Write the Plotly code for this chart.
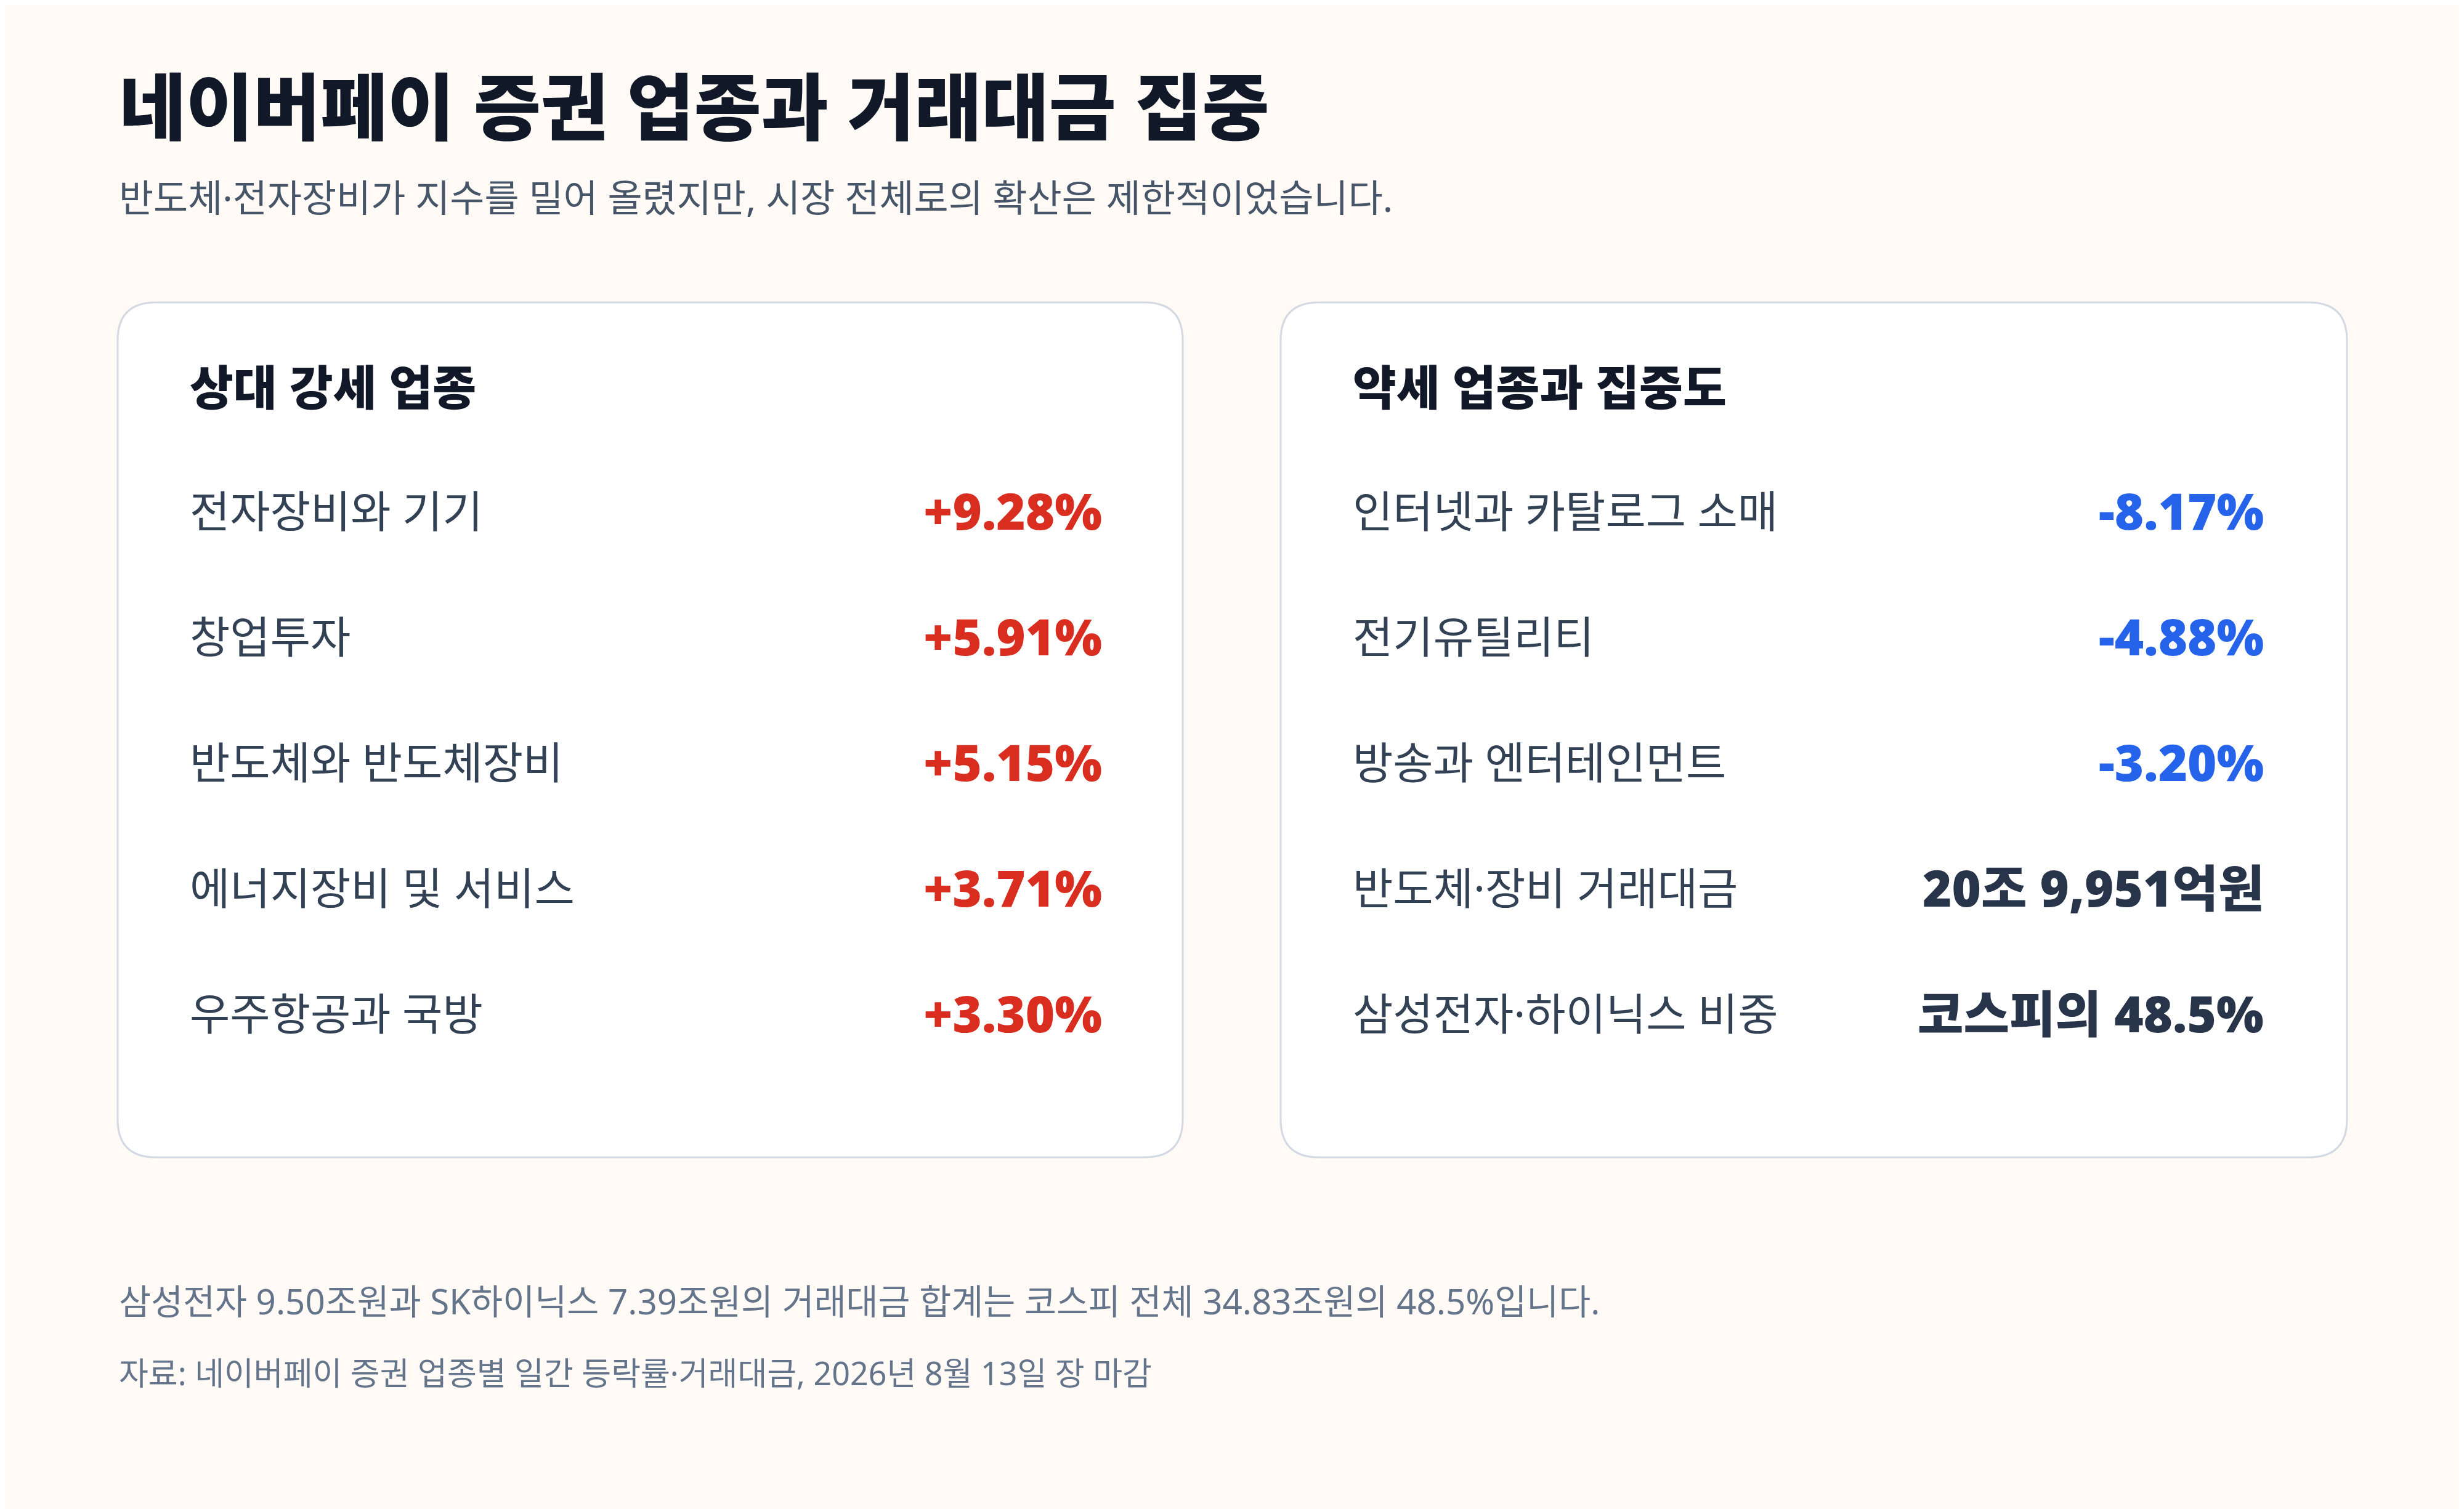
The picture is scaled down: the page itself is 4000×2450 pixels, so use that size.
import plotly.graph_objects as go

# text content
title = "네이버페이 증권 업종과 거래대금 집중"
subtitle = "반도체·전자장비가 지수를 밀어 올렸지만, 시장 전체로의 확산은 제한적이었습니다."

strong_title = "상대 강세 업종"
strong_labels = ["전자장비와 기기", "창업투자", "반도체와 반도체장비", "에너지장비 및 서비스", "우주항공과 국방"]
strong_values = [9.28, 5.91, 5.15, 3.71, 3.30]

weak_title = "약세 업종과 집중도"
weak_labels = ["인터넷과 카탈로그 소매", "전기유틸리티", "방송과 엔터테인먼트"]
weak_values = [-8.17, -4.88, -3.20]
conc_labels = ["반도체·장비 거래대금", "삼성전자·하이닉스 비중"]
conc_values = ["20조 9,951억원", "코스피의 48.5%"]

note = "삼성전자 9.50조원과 SK하이닉스 7.39조원의 거래대금 합계는 코스피 전체 34.83조원의 48.5%입니다."
source = "자료: 네이버페이 증권 업종별 일간 등락률·거래대금, 2026년 8월 13일 장 마감"

W, H = 4000, 2450
OFF = 8  # page body margin
FONT = "Noto Sans, Noto Sans CJK KR"
BG = "#fffaf6"
RED = "#d92d20"
BLUE = "#2563eb"
DARK = "#111827"
TEXT = "#334155"
MUTED = "#64748b"


def rounded_rect(x0, y0, x1, y1, r):
    return (f"M {x0+r},{y0} L {x1-r},{y0} Q {x1},{y0} {x1},{y0+r} "
            f"L {x1},{y1-r} Q {x1},{y1} {x1-r},{y1} L {x0+r},{y1} "
            f"Q {x0},{y1} {x0},{y1-r} L {x0},{y0+r} Q {x0},{y0} {x0+r},{y0} Z")


fig = go.Figure()
# invisible trace so the axes exist
fig.add_trace(go.Scatter(x=[OFF, W], y=[OFF, H], mode="markers",
                         marker=dict(opacity=0), hoverinfo="skip", showlegend=False))

card_top, card_bottom = 491, 1879
for left, right in [(191, 1920), (2079, 3810)]:
    fig.add_shape(type="path", path=rounded_rect(left, card_top, right, card_bottom, 62),
                  xref="x", yref="y", fillcolor="#ffffff",
                  line=dict(color="#d3d9e2", width=3), layer="below")


def text(x, y, s, size, color, anchor="left", weight=400):
    fig.add_annotation(x=x, y=y, xref="x", yref="y", text=s, showarrow=False,
                       xanchor=anchor, yanchor="middle",
                       font=dict(family=FONT, size=size, color=color, weight=weight))


text(191, 172, title, 118.5, DARK, weight=900)
text(191, 320, subtitle, 61, "#475569")

row_y0, row_step = 828, 204
label_size, value_size = 71, 81

# left card
text(306, 628, strong_title, 77, DARK, weight=900)
for i, (lab, val) in enumerate(zip(strong_labels, strong_values)):
    y = row_y0 + i * row_step
    text(306, y, lab, label_size, TEXT)
    text(1791, y, f"{val:+.2f}%", value_size, RED, anchor="right", weight=900)

# right card
text(2194, 628, weak_title, 77, DARK, weight=900)
for i, (lab, val) in enumerate(zip(weak_labels, weak_values)):
    y = row_y0 + i * row_step
    text(2194, y, lab, label_size, TEXT)
    text(3677, y, f"{val:.2f}%", value_size, BLUE, anchor="right", weight=900)
for j, (lab, val) in enumerate(zip(conc_labels, conc_values)):
    y = row_y0 + (len(weak_labels) + j) * row_step
    text(2194, y, lab, label_size, TEXT)
    text(3677, y, val, value_size, "#273449", anchor="right", weight=900)

text(191, 2112, note, 56.5, MUTED)
text(191, 2228, source, 52, MUTED)

fig.update_xaxes(range=[OFF, W + OFF], visible=False, fixedrange=True)
fig.update_yaxes(range=[H + OFF, OFF], visible=False, fixedrange=True)
fig.update_layout(width=W, height=H, margin=dict(l=0, r=0, t=0, b=0),
                  paper_bgcolor=BG, plot_bgcolor=BG, showlegend=False)

fig.write_html("out.html")
